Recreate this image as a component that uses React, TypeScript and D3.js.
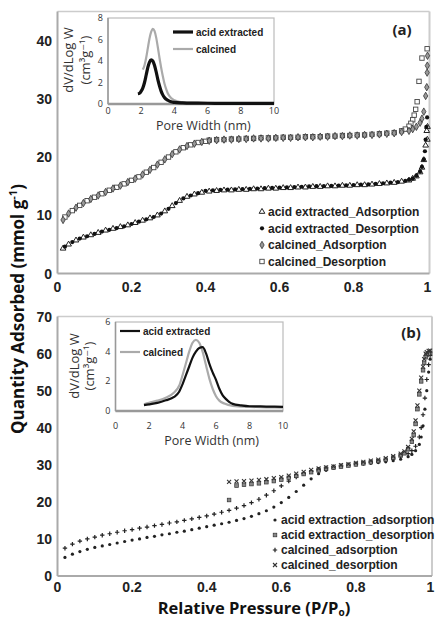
import React from 'react';
import * as d3 from 'd3';

// ---------- Panel (a) data ----------
const pAdsA = [0.015,0.03,0.05,0.07,0.09,0.11,0.13,0.15,0.17,0.19,0.21,0.23,0.25,0.27,0.29,0.31,0.33,0.35,0.37,0.39,0.41,0.43,0.45,0.47,0.49,0.51,0.53,0.55,0.57,0.59,0.61,0.63,0.65,0.67,0.69,0.71,0.73,0.75,0.77,0.79,0.81,0.83,0.85,0.87,0.89,0.91,0.93,0.95,0.96,0.97,0.98,0.985,0.99,0.995,0.998];
const acidAdsA = [4.3,5.0,5.7,6.2,6.6,7.0,7.4,7.7,8.0,8.3,8.7,9.1,9.5,10.0,10.7,11.6,12.5,13.2,13.6,13.9,14.1,14.2,14.3,14.3,14.4,14.4,14.5,14.5,14.6,14.6,14.7,14.7,14.8,14.8,14.9,14.9,15.0,15.0,15.1,15.1,15.2,15.2,15.3,15.4,15.5,15.6,15.8,16.0,16.3,16.7,17.4,18.2,19.5,22.0,24.5];
const calcAdsA = [9.2,10.3,11.3,12.1,12.8,13.4,14.0,14.6,15.1,15.7,16.3,17.0,17.8,18.7,19.6,20.5,21.3,21.9,22.3,22.6,22.8,22.9,23.0,23.0,23.1,23.1,23.2,23.2,23.2,23.3,23.3,23.3,23.4,23.4,23.4,23.5,23.5,23.6,23.6,23.7,23.7,23.8,23.8,23.9,24.0,24.1,24.3,24.5,24.8,25.2,25.9,26.6,27.8,30.5,32.0];
const acidAdsEndP = [0.9995, 1.0];
const acidAdsEndQ = [23.0, 25.2];
const calcAdsEndP = [0.999, 0.9995, 1.0];
const calcAdsEndQ = [34.5, 35.7, 37.4];

const pDesA = [0.999,0.997,0.995,0.993,0.99,0.985,0.98,0.97,0.96,0.95,0.94,0.92,0.90,0.88,0.86,0.84,0.82,0.80,0.78,0.76,0.74,0.72,0.70,0.68,0.66,0.64,0.62,0.60,0.58,0.56,0.54,0.52,0.50,0.48,0.46,0.44,0.42,0.40,0.38,0.36,0.34,0.32,0.30,0.28,0.26,0.24,0.22,0.20,0.18,0.16,0.14,0.12,0.10,0.08,0.06,0.04,0.02];
const acidDesA = [26.8,25.2,23.0,21.0,19.6,18.3,17.5,16.8,16.3,16.1,15.9,15.7,15.6,15.5,15.4,15.3,15.25,15.2,15.15,15.1,15.05,15.0,15.0,14.95,14.9,14.85,14.8,14.75,14.7,14.65,14.6,14.55,14.5,14.45,14.4,14.35,14.3,14.2,13.8,13.4,12.9,12.1,11.1,10.3,9.7,9.3,8.9,8.5,8.1,7.8,7.5,7.2,6.8,6.4,6.0,5.4,4.6];

const pDesCalcA = [0.999,0.985,0.977,0.972,0.968,0.964,0.96,0.955,0.95,0.94,0.93,0.91,0.89,0.87,0.85,0.83,0.81,0.79,0.77,0.75,0.73,0.71,0.69,0.67,0.65,0.63,0.61,0.59,0.57,0.55,0.53,0.51,0.49,0.47,0.45,0.43,0.41,0.40,0.38,0.36,0.34,0.32,0.30,0.28,0.26,0.24,0.22,0.20,0.18,0.16,0.14,0.12,0.10,0.08,0.06,0.04,0.02];
const calcDesA = [38.6,37.0,33.0,29.5,28.2,27.2,26.4,25.8,25.3,24.8,24.5,24.2,24.1,24.0,23.9,23.8,23.8,23.7,23.7,23.6,23.6,23.5,23.5,23.5,23.4,23.4,23.4,23.3,23.3,23.3,23.2,23.2,23.1,23.1,23.0,23.0,22.9,22.7,22.5,22.1,21.6,20.9,20.0,19.1,18.2,17.4,16.6,16.0,15.4,14.8,14.3,13.7,13.1,12.5,11.7,10.8,9.7];

// ---------- Panel (b) data ----------
const pAdsB = [0.02,0.04,0.06,0.08,0.10,0.12,0.14,0.16,0.18,0.20,0.22,0.24,0.26,0.28,0.30,0.32,0.34,0.36,0.38,0.40,0.42,0.44,0.46,0.48,0.50,0.52,0.54,0.56,0.58,0.60,0.62,0.64,0.66,0.68,0.70,0.72,0.74,0.76,0.78,0.80,0.82,0.84,0.86,0.88,0.90,0.92,0.94,0.95,0.96,0.97,0.975,0.98,0.985,0.99,0.995,0.999];
const acidAdsB = [5.0,5.9,6.6,7.2,7.7,8.1,8.5,8.9,9.3,9.7,10.0,10.4,10.7,11.1,11.4,11.8,12.1,12.5,12.9,13.3,13.7,14.1,14.5,15.0,15.5,16.1,16.8,17.6,18.6,19.8,21.2,22.8,24.5,26.2,27.6,28.5,29.1,29.5,29.8,30.0,30.2,30.4,30.6,30.8,31.1,31.5,32.2,32.8,33.8,35.5,37.5,40.5,45,50,55,58.5];
const calcAdsB = [7.5,8.6,9.4,10.0,10.5,11.0,11.4,11.8,12.2,12.5,12.9,13.2,13.6,13.9,14.3,14.6,15.0,15.4,15.8,16.2,16.7,17.2,17.7,18.3,19.0,19.8,20.7,21.8,23.0,24.3,25.6,26.7,27.6,28.3,28.8,29.2,29.5,29.8,30.0,30.3,30.5,30.8,31.0,31.3,31.6,32.1,33.0,33.8,35.0,37.5,40,43.5,48,53,57,59.5];
const pDesB = [0.999,0.995,0.99,0.987,0.983,0.98,0.975,0.97,0.965,0.96,0.955,0.95,0.94,0.93,0.92,0.90,0.88,0.86,0.84,0.82,0.80,0.78,0.76,0.74,0.72,0.70,0.68,0.66,0.64,0.62,0.60,0.58,0.56,0.54,0.52,0.50,0.48,0.46];
const acidDesB = [60.2,60.0,59.6,59.0,57.5,55.5,52.5,49.0,45.0,41.0,38.0,36.2,34.2,33.1,32.6,31.9,31.4,31.0,30.7,30.4,30.1,29.8,29.5,29.2,28.9,28.5,28.0,27.5,27.0,26.5,26.0,25.6,25.3,25.0,24.8,24.6,24.4,20.5];
const calcDesB = [60.8,60.7,60.4,60.0,58.5,56.5,53.5,50.0,46.0,42.0,39.0,37.0,34.8,33.6,33.0,32.3,31.8,31.4,31.1,30.8,30.5,30.2,29.9,29.6,29.3,29.0,28.6,28.1,27.6,27.1,26.7,26.4,26.1,25.9,25.7,25.6,25.5,25.4];

// ---------- Inset data (pore size distributions) ----------
const wAcidA = [1.8,1.9,2.0,2.1,2.2,2.3,2.4,2.5,2.6,2.7,2.8,2.9,3.0,3.1,3.2,3.3,3.4,3.6,3.8,4.0,4.5,5,6,7,8,9,10];
const vAcidA = [0.95,1.0,1.2,1.5,2.0,2.7,3.4,3.9,4.1,4.0,3.6,3.0,2.3,1.7,1.2,0.85,0.6,0.35,0.2,0.15,0.1,0.08,0.07,0.06,0.06,0.05,0.05];
const wCalcA = [2.1,2.2,2.3,2.4,2.5,2.6,2.7,2.8,2.9,3.0,3.1,3.2,3.3,3.4,3.5,3.6,3.8,4.0,4.3,4.6,5,6,7,8,9,10];
const vCalcA = [3.2,3.6,4.3,5.2,6.1,6.7,7.0,6.8,6.2,5.3,4.3,3.4,2.6,1.9,1.4,1.0,0.55,0.35,0.2,0.15,0.12,0.1,0.08,0.07,0.06,0.06];
const wAcidB = [1.7,2,2.5,3,3.5,3.8,4.0,4.2,4.4,4.6,4.8,5.0,5.2,5.4,5.6,5.8,6.0,6.2,6.4,6.6,6.8,7,7.5,8,9,10];
const vAcidB = [0.4,0.45,0.55,0.72,0.95,1.3,1.8,2.4,3.0,3.6,4.0,4.25,4.3,3.9,3.2,2.6,2.1,1.5,1.05,0.8,0.6,0.48,0.38,0.32,0.3,0.28];
const wCalcB = [1.7,2,2.5,3,3.5,3.8,4.0,4.2,4.4,4.6,4.8,5.0,5.2,5.4,5.6,5.8,6.0,6.2,6.5,7,8,9,10];
const vCalcB = [0.45,0.55,0.7,0.9,1.25,1.7,2.4,3.2,4.0,4.6,4.8,4.6,4.0,3.1,2.2,1.5,1.0,0.7,0.5,0.35,0.28,0.25,0.22];

const xTicks = [0, 0.2, 0.4, 0.6, 0.8, 1];
const xTickLabels = ['0', '0.2', '0.4', '0.6', '0.8', '1'];
const yTicksA = [0, 10, 20, 30, 40];
const yTicksB = [0, 10, 20, 30, 40, 50, 60, 70];
const insetXTicks = [0, 2, 4, 6, 8, 10];
const insetYTicksA = [0, 2, 4, 6, 8];
const insetYTicksB = [0, 2, 4, 6];

const legendA = ['acid extracted_Adsorption', 'acid extracted_Desorption', 'calcined_Adsorption', 'calcined_Desorption'];
const legendB = ['acid extraction_adsorption', 'acid extraction_desorption', 'calcined_adsorption', 'calcined_desorption'];
const insetLegend = ['acid extracted', 'calcined'];

const zip = (a: number[], b: number[]) => a.map((v, i) => [v, b[i]] as [number, number]);

const TICK_FONT = "'Liberation Sans', Arial, sans-serif";
const TITLE_FONT = "'Open Sans', 'DejaVu Sans', sans-serif";

type MK = 'tri' | 'dot' | 'diamond' | 'square' | 'sdot' | 'fsquare' | 'plus' | 'cross';

function Marker({ kind, x, y }: { kind: MK; x: number; y: number }) {
  switch (kind) {
    case 'tri':
      return <path d={d3.symbol(d3.symbolTriangle, 14)()!} transform={`translate(${x},${y})`} fill="#fff" stroke="#222" strokeWidth={1} />;
    case 'dot':
      return <circle cx={x} cy={y} r={2.1} fill="#111" />;
    case 'diamond':
      return <path d={d3.symbol(d3.symbolDiamond, 16)()!} transform={`translate(${x},${y})`} fill="#999" stroke="#333" strokeWidth={0.8} />;
    case 'square':
      return <rect x={x - 2.2} y={y - 2.2} width={4.4} height={4.4} fill="#fff" stroke="#444" strokeWidth={0.9} />;
    case 'sdot':
      return <circle cx={x} cy={y} r={1.6} fill="#222" />;
    case 'fsquare':
      return <rect x={x - 1.8} y={y - 1.8} width={3.6} height={3.6} fill="#888" stroke="#333" strokeWidth={0.7} />;
    case 'plus':
      return <path d={`M${x - 2.2},${y}H${x + 2.2}M${x},${y - 2.2}V${y + 2.2}`} stroke="#222" strokeWidth={1.2} />;
    case 'cross':
      return <path d={`M${x - 2},${y - 2}L${x + 2},${y + 2}M${x - 2},${y + 2}L${x + 2},${y - 2}`} stroke="#333" strokeWidth={1.1} />;
  }
  return null;
}

function Inset({ ix, iy, yTicks, series, legendX, legendY1, legendY2, titleX1, titleX2, titleY, tickY, poreY, blackW }: any) {
  const [x0, x1] = ix.range();
  const [y0, y1] = iy.range();
  const line = d3.line<[number, number]>().x(d => ix(d[0])).y(d => iy(d[1])).curve(d3.curveMonotoneX);
  return (
    <g>
      <rect x={x0} y={y1} width={x1 - x0} height={y0 - y1} fill="#fff" stroke="#bbb" strokeWidth={1.2} />
      <line x1={x0} x2={x0} y1={y1} y2={y0} stroke="#999" strokeWidth={1.5} />
      <line x1={x0} x2={x1} y1={y0} y2={y0} stroke="#999" strokeWidth={2.5} />
      {yTicks.map((t: number) => (
        <text key={'y' + t} x={x0 - 5} y={iy(t)} dy="0.35em" textAnchor="end" fontSize={9} fontFamily={TITLE_FONT} fill="#333">{t}</text>
      ))}
      {insetXTicks.map(t => (
        <text key={'x' + t} x={ix(t)} y={tickY} textAnchor="middle" fontSize={9} fontFamily={TITLE_FONT} fill="#333">{t}</text>
      ))}
      <text x={(ix(3) + ix(8)) / 2 + 4} y={poreY} textAnchor="middle" fontSize={12.5} fontFamily={TITLE_FONT} fill="#333">Pore Width (nm)</text>
      <text transform={`translate(${titleX1},${titleY}) rotate(-90)`} textAnchor="middle" fontSize={13} fontFamily={TITLE_FONT} fill="#333">dV/dLog W</text>
      <text transform={`translate(${titleX2},${titleY}) rotate(-90)`} textAnchor="middle" fontSize={13} fontFamily={TITLE_FONT} fill="#333">(cm³g⁻¹)</text>
      <path d={line(series[1])!} fill="none" stroke="#aaa" strokeWidth={2.2} />
      <path d={line(series[0])!} fill="none" stroke="#111" strokeWidth={blackW} />
      <line x1={legendX} x2={legendX + 20} y1={legendY1} y2={legendY1} stroke="#111" strokeWidth={blackW} />
      <line x1={legendX} x2={legendX + 20} y1={legendY2} y2={legendY2} stroke="#aaa" strokeWidth={2.2} />
      <text x={legendX + 23} y={legendY1} dy="0.35em" fontSize={10} fontWeight="bold" fontFamily={TICK_FONT} fill="#222">{insetLegend[0]}</text>
      <text x={legendX + 23} y={legendY2} dy="0.35em" fontSize={10} fontWeight="bold" fontFamily={TICK_FONT} fill="#222">{insetLegend[1]}</text>
    </g>
  );
}

export default function App() {
  const xA = d3.scaleLinear().domain([0, 1]).range([57.5, 427.5]);
  const yA = d3.scaleLinear().domain([0, 45]).range([273.5, 11.5]);
  const xB = d3.scaleLinear().domain([0, 1]).range([57.5, 430.5]);
  const yB = d3.scaleLinear().domain([0, 70]).range([576, 316.5]);

  const ixA = d3.scaleLinear().domain([0, 10]).range([108, 274]);
  const iyA = d3.scaleLinear().domain([0, 8]).range([104, 18]);
  const ixB = d3.scaleLinear().domain([0, 10]).range([115.5, 283]);
  const iyB = d3.scaleLinear().domain([0, 6]).range([411, 322]);

  const seriesA: { pts: [number, number][]; kind: MK }[] = [
    { pts: zip(pDesCalcA, calcDesA), kind: 'square' },
    { pts: zip(pAdsA, calcAdsA).concat(zip(calcAdsEndP, calcAdsEndQ)), kind: 'diamond' },
    { pts: zip(pAdsA, acidAdsA).concat(zip(acidAdsEndP, acidAdsEndQ)), kind: 'tri' },
    { pts: zip(pDesA, acidDesA), kind: 'dot' },
  ];
  const seriesB: { pts: [number, number][]; kind: MK }[] = [
    { pts: zip(pAdsB, acidAdsB), kind: 'sdot' },
    { pts: zip(pAdsB, calcAdsB), kind: 'plus' },
    { pts: zip(pDesB, acidDesB), kind: 'fsquare' },
    { pts: zip(pDesB, calcDesB), kind: 'cross' },
  ];
  const legendKindsA: MK[] = ['tri', 'dot', 'diamond', 'square'];
  const legendKindsB: MK[] = ['sdot', 'fsquare', 'plus', 'cross'];
  const legendRowsA = [211.7, 228.3, 245, 261.5];
  const legendRowsB = [520, 535, 550, 565];

  const frame = (x: any, y: any, right: number) => {
    const [xl] = x.range();
    const [yb, yt] = y.range();
    return (
      <g>
        <line x1={xl} x2={right} y1={yt} y2={yt} stroke="#ccc" strokeWidth={1.5} />
        <line x1={right} x2={right} y1={yt} y2={yb} stroke="#ccc" strokeWidth={2} />
        <line x1={xl} x2={xl} y1={yt} y2={yb} stroke="#aaa" strokeWidth={2} />
        <line x1={xl} x2={right} y1={yb} y2={yb} stroke="#aaa" strokeWidth={2} />
      </g>
    );
  };

  return (
    <svg width={435} height={620} style={{ position: 'absolute', left: 0, top: 0, background: '#fff' }}>
      <rect width={435} height={620} fill="#fff" />
      {/* Panel (a) */}
      {frame(xA, yA, 429.5)}
      {yTicksA.map(t => (
        <text key={'ya' + t} x={52} y={yA(t)} dy="0.36em" textAnchor="end" fontSize={14} fontWeight="bold" fontFamily={TICK_FONT} fill="#222">{t}</text>
      ))}
      {xTicks.map((t, i) => (
        <text key={'xa' + t} x={xA(t)} y={292} textAnchor="middle" fontSize={14} fontWeight="bold" fontFamily={TICK_FONT} fill="#222">{xTickLabels[i]}</text>
      ))}
      {seriesA.map((s, si) => (
        <g key={'sa' + si}>
          {s.pts.map((d, i) => <Marker key={i} kind={s.kind} x={xA(d[0])} y={yA(d[1])} />)}
        </g>
      ))}
      {legendA.map((l, i) => (
        <g key={'la' + i}>
          <Marker kind={legendKindsA[i]} x={262} y={legendRowsA[i]} />
          <text x={268} y={legendRowsA[i]} dy="0.35em" fontSize={12} fontWeight="bold" fontFamily={TICK_FONT} fill="#222">{l}</text>
        </g>
      ))}
      <text x={402} y={35} textAnchor="middle" fontSize={15} fontWeight="bold" fontFamily={TITLE_FONT} fill="#222">(a)</text>
      <Inset ix={ixA} iy={iyA} yTicks={insetYTicksA}
        series={[zip(wAcidA, vAcidA), zip(wCalcA, vCalcA)]}
        legendX={173} legendY1={32} legendY2={49} titleX1={73} titleX2={90} titleY={60} tickY={114} poreY={130} blackW={3.2} />

      {/* Panel (b) */}
      {frame(xB, yB, 432)}
      {yTicksB.map(t => (
        <text key={'yb' + t} x={52} y={yB(t)} dy="0.36em" textAnchor="end" fontSize={14} fontWeight="bold" fontFamily={TICK_FONT} fill="#222">{t}</text>
      ))}
      {xTicks.map((t, i) => (
        <text key={'xb' + t} x={xB(t)} y={592} textAnchor="middle" fontSize={14} fontWeight="bold" fontFamily={TICK_FONT} fill="#222">{xTickLabels[i]}</text>
      ))}
      {seriesB.map((s, si) => (
        <g key={'sb' + si}>
          {s.pts.map((d, i) => <Marker key={i} kind={s.kind} x={xB(d[0])} y={yB(d[1])} />)}
        </g>
      ))}
      {legendB.map((l, i) => (
        <g key={'lb' + i}>
          <Marker kind={legendKindsB[i]} x={275} y={legendRowsB[i]} />
          <text x={281} y={legendRowsB[i]} dy="0.35em" fontSize={12} fontWeight="bold" fontFamily={TICK_FONT} fill="#222">{l}</text>
        </g>
      ))}
      <text x={411} y={338} textAnchor="middle" fontSize={15} fontWeight="bold" fontFamily={TITLE_FONT} fill="#222">(b)</text>
      <Inset ix={ixB} iy={iyB} yTicks={insetYTicksB}
        series={[zip(wAcidB, vAcidB), zip(wCalcB, vCalcB)]}
        legendX={120} legendY1={331} legendY2={352} titleX1={79} titleX2={94} titleY={366} tickY={429} poreY={445} blackW={2.2} />

      {/* Axis titles */}
      <text transform="translate(24,309) rotate(-90)" textAnchor="middle" fontSize={17} fontWeight="bold" fontFamily={TITLE_FONT} fill="#111">
        Quantity Adsorbed (mmol g<tspan fontSize={11} dy={-7}>-1</tspan><tspan dy={7}>)</tspan>
      </text>
      <text x={254} y={613.5} textAnchor="middle" fontSize={16.5} fontWeight="bold" fontFamily={TITLE_FONT} fill="#111">
        Relative Pressure (P/P<tspan fontSize={10} dy={2.5}>o</tspan><tspan dy={-2.5}>)</tspan>
      </text>
    </svg>
  );
}
